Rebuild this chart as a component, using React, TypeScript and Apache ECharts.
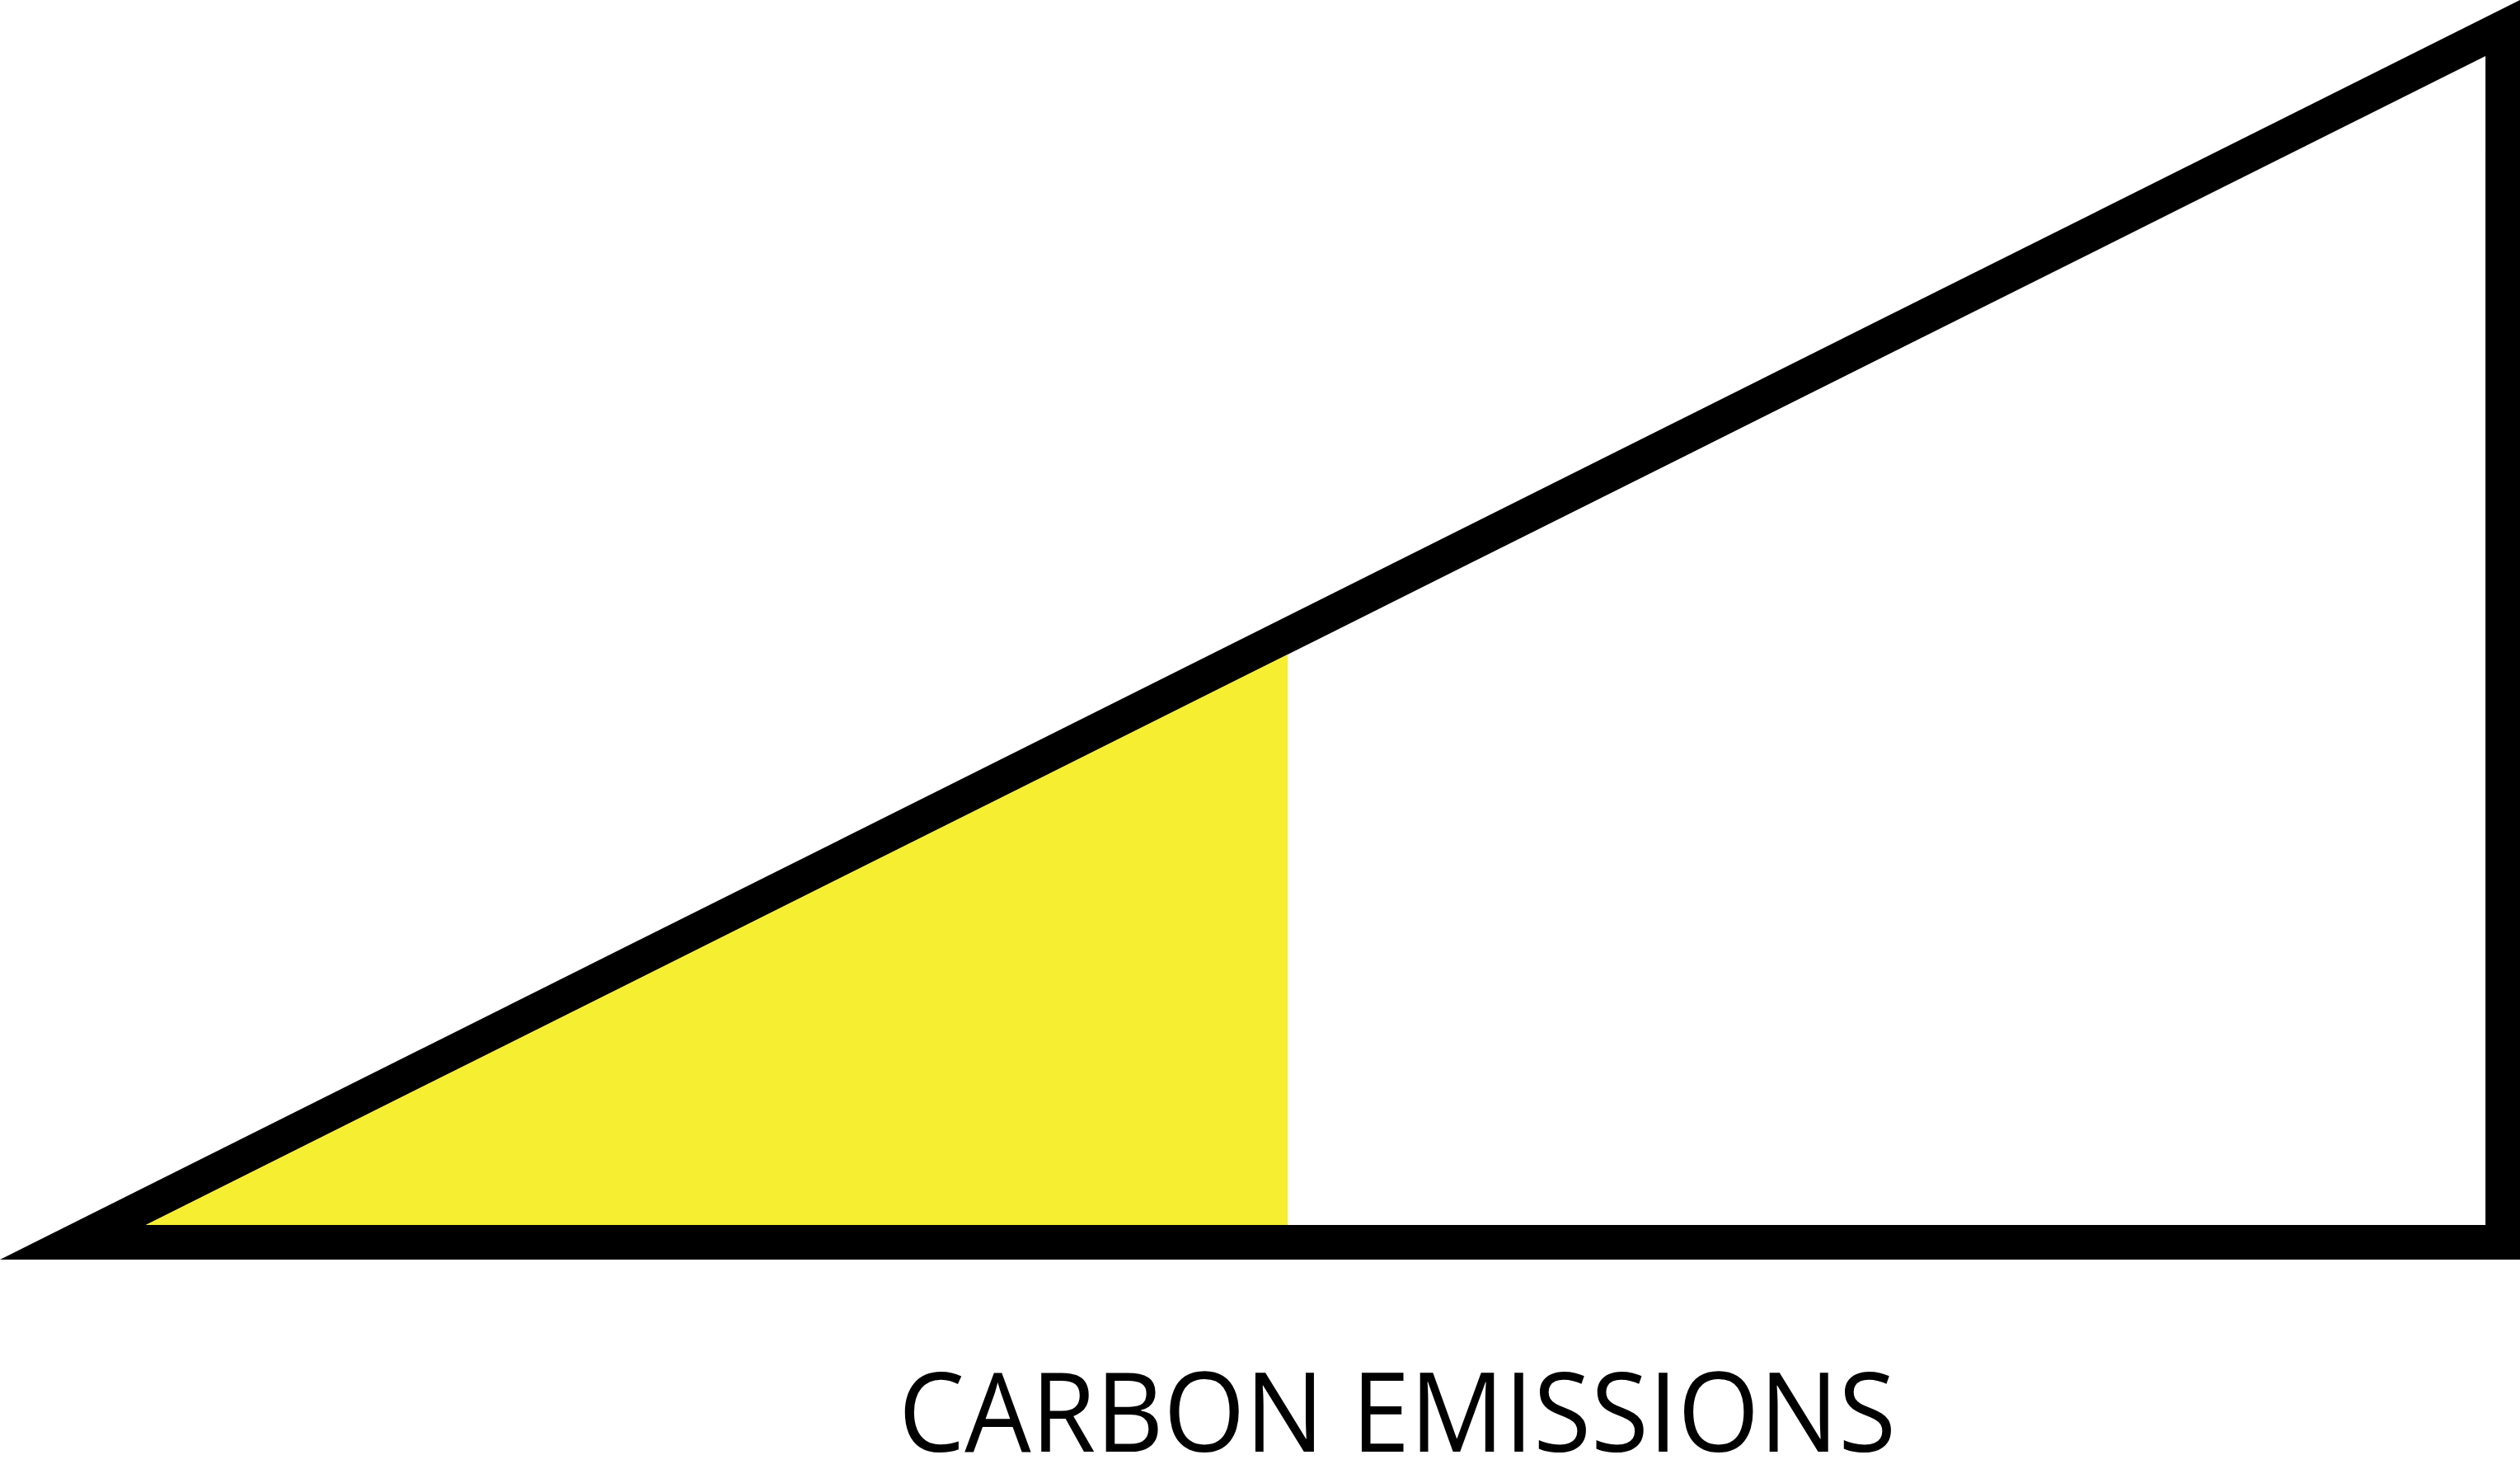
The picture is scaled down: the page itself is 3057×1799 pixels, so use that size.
import { useEffect, useRef } from "react";
import * as echarts from "echarts";

// Diagram in abstract units: x 0..100 (width), y 0..100 (height of the triangle)
const labelText = "CARBON EMISSIONS";
const outerTriangle = [
  [0, 0],
  [100, 0],
  [100, 100],
];
const innerTriangle = [
  [5.79, 2.75],
  [98.63, 2.75],
  [98.63, 95.55],
];
const filledArea = [
  [5.79, 2.75],
  [51.1, 2.75],
  [51.1, 48.04],
];

const shapes = [
  { name: "outline", points: outerTriangle, color: "#000000" },
  { name: "inside", points: innerTriangle, color: "#ffffff" },
  { name: "emissions", points: filledArea, color: "#F5EE31" },
];

const App: React.FC = () => {
  const chartRef = useRef<HTMLDivElement>(null);

  useEffect(() => {
    if (!chartRef.current) return;
    const myChart = echarts.init(chartRef.current, null, { renderer: "svg" });

    const option = {
      animation: false,
      backgroundColor: "#ffffff",
      grid: { left: 0, right: 0, top: 0, bottom: 271 },
      xAxis: { type: "value", min: 0, max: 100, show: false },
      yAxis: { type: "value", min: 0, max: 100, show: false },
      series: shapes.map((s) => ({
        name: s.name,
        type: "custom",
        coordinateSystem: "cartesian2d",
        clip: false,
        data: [0],
        renderItem: (_params: any, api: any) => ({
          type: "polygon",
          shape: { points: s.points.map((p) => api.coord(p)) },
          style: { fill: s.color, stroke: "none" },
        }),
      })),
      graphic: [
        {
          type: "text",
          x: 1695,
          y: 1709,
          scaleX: 0.95,
          style: {
            text: labelText,
            font: '134px "Open Sans"',
            fill: "#000000",
            textAlign: "center",
            textVerticalAlign: "middle",
          },
        },
      ],
    };

    myChart.setOption(option);
    return () => {
      myChart.dispose();
    };
  }, []);

  return (
    <div
      ref={chartRef}
      style={{ position: "fixed", left: 0, top: 0, width: "3057px", height: "1799px" }}
    />
  );
};

export default App;
